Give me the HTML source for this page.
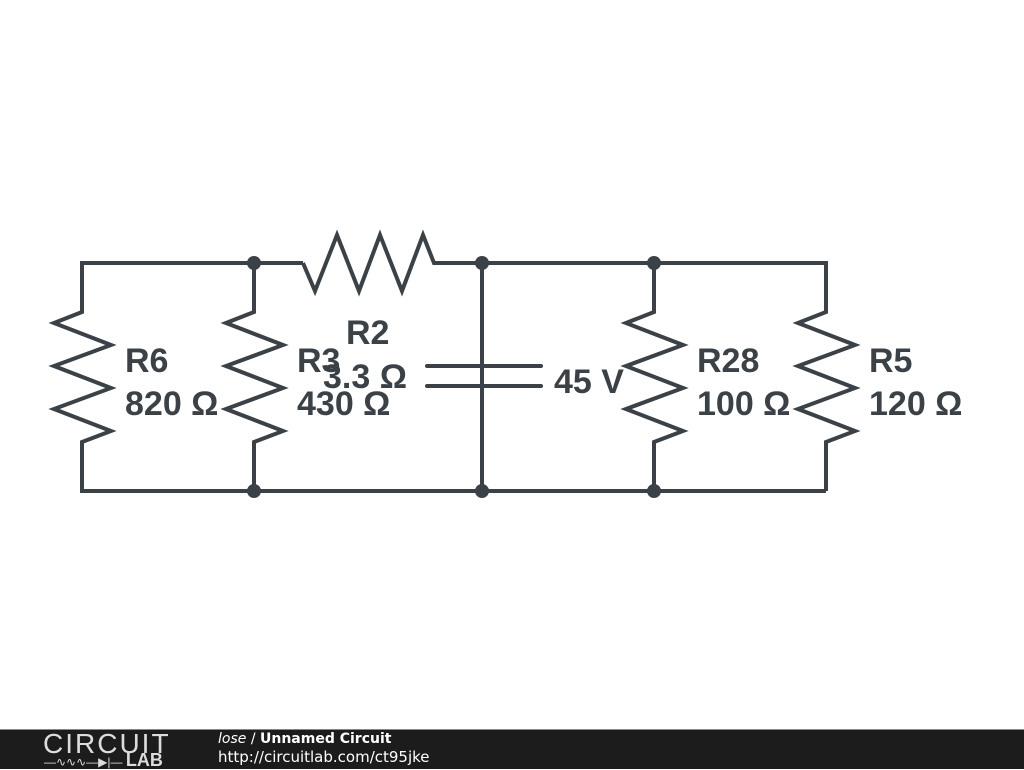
<!DOCTYPE html>
<html><head><style>
body{margin:0;width:1024px;height:768px;background:#fff;overflow:hidden;position:relative;font-family:"Liberation Sans",sans-serif}
#f{position:absolute;left:0;top:729px;width:1024px;height:39px;background:#1c1c1c;border-top:1px solid #888}
</style></head><body>
<svg width="1024" height="768" style="position:absolute;left:0;top:0">
<g stroke="#3a4147" stroke-width="4" fill="none" stroke-linejoin="miter">
<polyline points="303,263 82,263 82,312 54,323 111,345 54,366 111,388 54,409 111,431 82,442 82,491 826,491"/>
<polyline points="254,263 254,312 226,323 283,345 226,366 283,388 226,409 283,431 254,442 254,491"/>
<polyline points="303,263 315,291 337,235 359,291 380,235 402,291 423,235 434,263 826,263 826,312 798,323 855,345 798,366 855,388 798,409 855,431 826,442 826,491"/>
<polyline points="654,263 654,312 626,323 683,345 626,366 683,388 626,409 683,431 654,442 654,491"/>
<line x1="482" y1="263" x2="482" y2="491"/>
<line x1="427" y1="366" x2="541" y2="366" stroke-linecap="round"/>
<line x1="427" y1="386" x2="541" y2="386" stroke-linecap="round"/>
</g>
<g fill="#3a4147">
<circle cx="254" cy="263" r="7"/><circle cx="482" cy="263" r="7"/><circle cx="654" cy="263" r="7"/>
<circle cx="254" cy="491" r="7"/><circle cx="482" cy="491" r="7"/><circle cx="654" cy="491" r="7"/>
</g>
<g fill="#3a4147" font-family="Liberation Sans, sans-serif" font-weight="bold" font-size="34">
<text x="125" y="372">R6</text><text x="125" y="415">820 Ω</text>
<text x="297" y="372">R3</text><text x="297" y="415">430 Ω</text>
<text x="346" y="344">R2</text><text x="323" y="388">3.3 Ω</text>
<text x="554" y="393">45 V</text>
<text x="697" y="372">R28</text><text x="697" y="415">100 Ω</text>
<text x="869" y="372">R5</text><text x="869" y="415">120 Ω</text>
</g>
</svg>
<div id="f">
<div style="position:absolute;left:43px;top:0px;color:#ddd;font-size:28px;font-weight:300;letter-spacing:2px;line-height:28px">CIRCUIT</div>
<div style="position:absolute;left:44px;top:23px;color:#ddd;font-size:12px;line-height:15px">—∿∿∿—▶|— <b style="font-size:18px">LAB</b></div>
<div style="position:absolute;left:218px;top:1px;color:#fff;font-family:'DejaVu Sans',sans-serif;font-size:14px;line-height:17px"><i>lose</i> / <b>Unnamed Circuit</b></div>
<div style="position:absolute;left:218px;top:19px;color:#fff;font-family:'DejaVu Sans',sans-serif;font-size:15px;line-height:17px">http://circuitlab.com/ct95jke</div>
</div>
</body></html>
